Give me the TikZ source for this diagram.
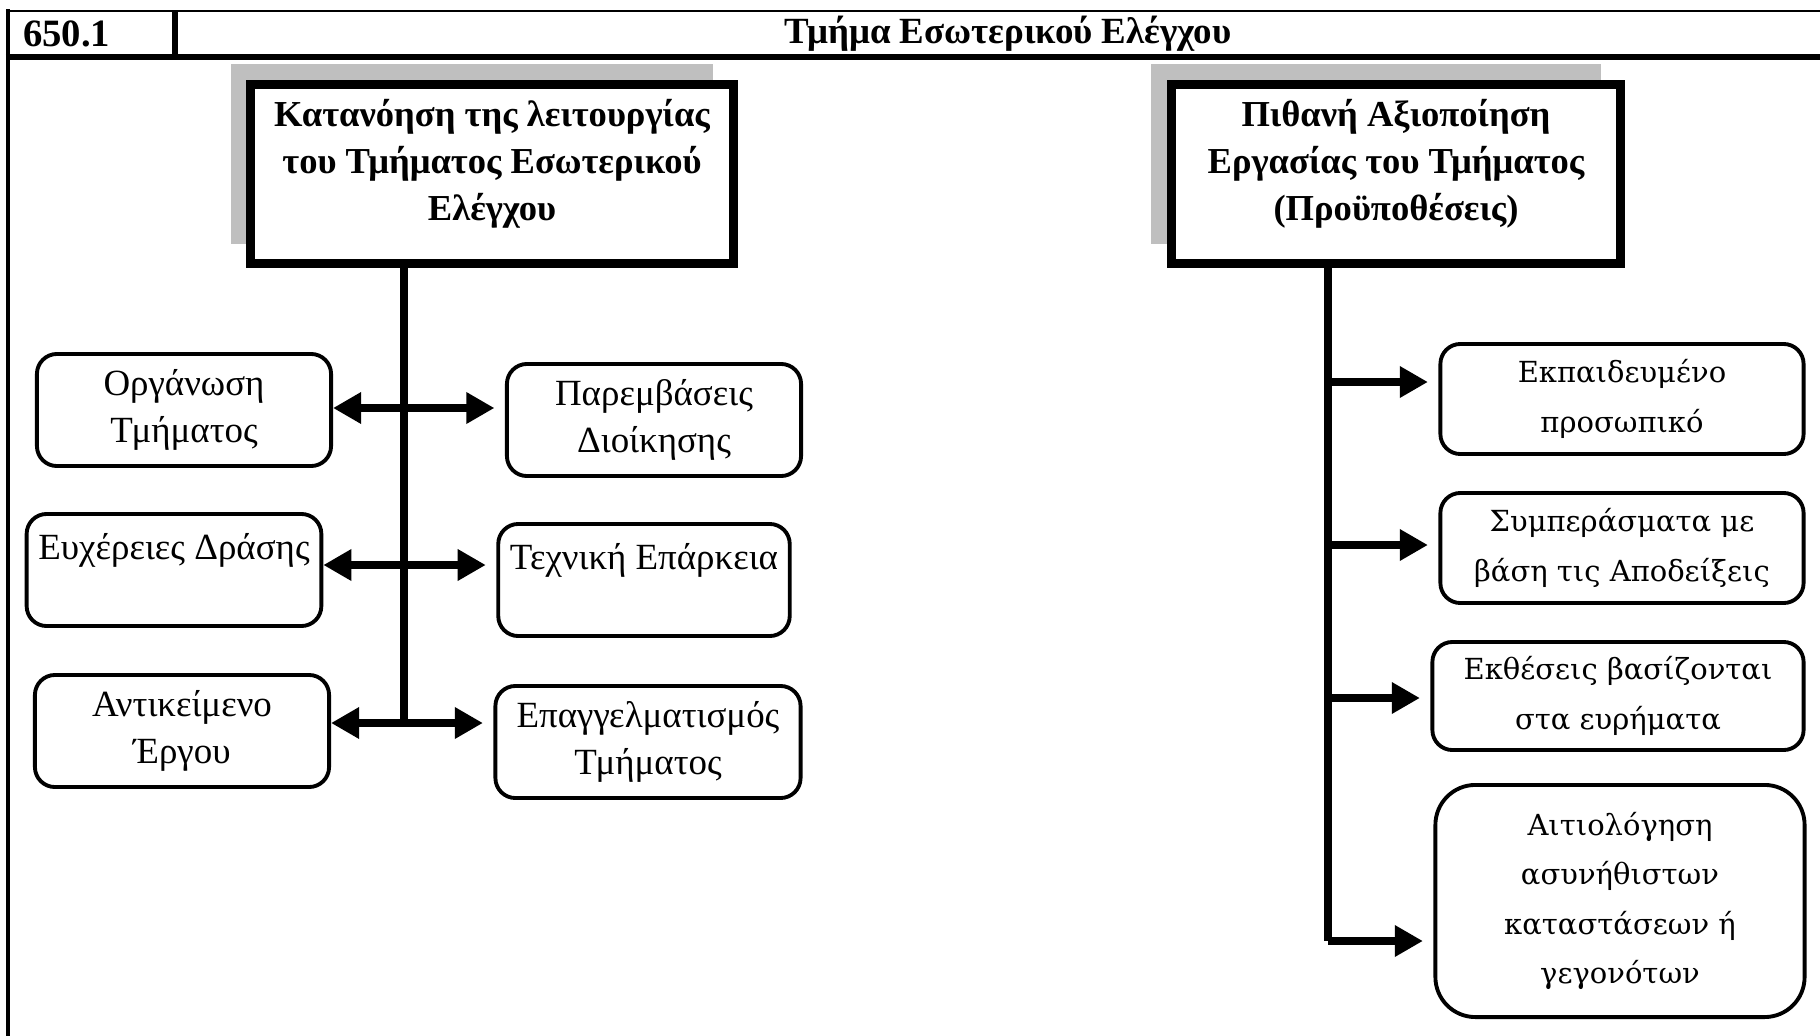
\documentclass[tikz,border=0pt]{standalone}
\usepackage{fontspec}
\setmainfont{Liberation Serif}
\newfontfamily\wideserif{DejaVu Serif}
\usetikzlibrary{arrows.meta, shadows}
\tikzset{every picture/.style={line width=0.75pt}}

\begin{document}
\begin{tikzpicture}[x=0.01cm, y=-0.01cm,
  topbox/.style={draw, line width=2.6pt, fill=white, align=center,
    font=\bfseries\fontsize{10.4}{13.4}\selectfont, minimum height=1.79cm, text depth=8pt,
    drop shadow={shadow xshift=-0.2cm, shadow yshift=0.2cm, fill=black!25, opacity=1}},
  lbox/.style={draw, line width=1.1pt, rounded corners=0.2cm, align=center,
    font=\fontsize{10.5}{13.4}\selectfont, minimum width=2.94cm, minimum height=1.12cm},
  rbox/.style={draw, line width=1.1pt, rounded corners=0.2cm, align=center,
    font=\wideserif\fontsize{8.25}{14}\selectfont, minimum width=3.63cm, minimum height=1.1cm},
  trunk/.style={line width=2.4pt},
  dbl/.style={line width=2.4pt, shorten >=3pt,
    {Triangle[length=8pt,width=8.5pt]}-{Triangle[length=8pt,width=8.5pt]}},
  sgl/.style={line width=2.4pt, shorten >=3pt, -{Triangle[length=8pt,width=8.5pt]}}
]
\useasboundingbox (0,0) rectangle (1820,1036);

% header
\draw[line width=0.7pt] (6,11) -- (1820,11);
\draw[line width=1.7pt] (6,57) -- (1820,57);
\draw[line width=1.4pt] (8,9) -- (8,1036);
\draw[line width=1.6pt] (175,11) -- (175,57);
\node[font=\bfseries\fontsize{11}{13}\selectfont, anchor=west] (code) at (10,34) {650.1};
\node[font=\bfseries\fontsize{10.5}{13}\selectfont] (title) at (1008,34) {Τμήμα Εσωτερικού Ελέγχου};

% top boxes
\node[topbox, minimum width=4.82cm] (t1) at (492,174) {Κατανόηση της λειτουργίας\\του Τμήματος Εσωτερικού\\Ελέγχου};
\node[topbox, minimum width=4.49cm] (t2) at (1396,174) {Πιθανή Αξιοποίηση\\Εργασίας του Τμήματος\\(Προϋποθέσεις)};

% left side
\node[lbox] (org) at (184,410) {Οργάνωση\\Τμήματος};
\node[lbox] (par) at (654,420) {Παρεμβάσεις\\Διοίκησης};
\node[lbox, minimum width=2.92cm] (eux) at (174,570) {Ευχέρειες Δράσης\\~};
\node[lbox, minimum width=2.91cm] (tec) at (644,580) {Τεχνική Επάρκεια\\~};
\node[lbox] (ant) at (182,731) {Αντικείμενο\\Έργου};
\node[lbox, minimum width=3.05cm] (epa) at (648,742) {Επαγγελματισμός\\Τμήματος};

\coordinate (a1) at (404,408);
\coordinate (a2) at (404,565);
\coordinate (a3) at (404,723);
\draw[trunk] (t1.south -| a1) -- (a3);
\draw[dbl] (a1 -| org.east) -- (a1 -| par.west);
\draw[dbl] (a2 -| eux.east) -- (a2 -| tec.west);
\draw[dbl] (a3 -| ant.east) -- (a3 -| epa.west);

% right side
\node[rbox] (e1) at (1622,399) {Εκπαιδευμένο\\προσωπικό};
\node[rbox] (e2) at (1622,548) {Συμπεράσματα με\\βάση τις Αποδείξεις};
\node[rbox, minimum width=3.71cm, minimum height=1.08cm] (e3) at (1618,696) {Εκθέσεις βασίζονται\\στα ευρήματα};
\node[rbox, minimum width=3.69cm, minimum height=2.32cm, rounded corners=0.4cm] (e4) at (1620,901) {Αιτιολόγηση\\ασυνήθιστων\\καταστάσεων ή\\γεγονότων};

\coordinate (b1) at (1328,382);
\coordinate (b2) at (1328,545);
\coordinate (b3) at (1328,698);
\coordinate (b4) at (1328,941);
\draw[trunk] (t2.south -| b1) -- (b4);
\foreach \b/\e in {b1/e1, b2/e2, b3/e3, b4/e4}
  \draw[sgl] (\b) -- (\b -| \e.west);
\end{tikzpicture}
\end{document}
